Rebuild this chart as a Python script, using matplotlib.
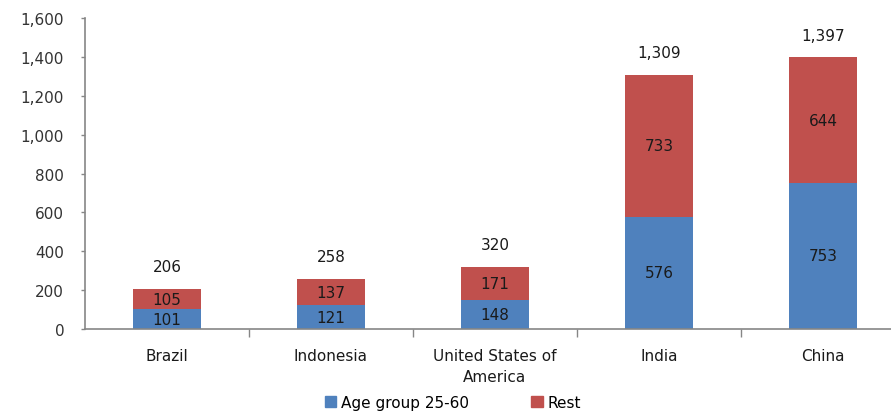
import matplotlib
matplotlib.use("Agg")
import matplotlib.pyplot as plt
from matplotlib.ticker import FuncFormatter, FixedLocator
from matplotlib.patches import Patch

countries = ["Brazil", "Indonesia", "United States of\nAmerica", "India", "China"]
age_25_60 = [101, 121, 148, 576, 753]
rest = [105, 137, 171, 733, 644]
totals = [206, 258, 320, 1309, 1397]

blue = "#4F81BD"
red = "#C0504D"
axis_grey = "#868686"
text_col = "#1a1a1a"

plt.rcParams["font.family"] = ["DejaVu Sans"]

fig = plt.figure(figsize=(8.91, 4.14), dpi=100)
ax = fig.add_axes([0.0954, 0.203, 0.9046, 0.751])

x = list(range(len(countries)))
w = 0.41
ax.bar(x, age_25_60, w, color=blue, label="Age group 25-60")
ax.bar(x, rest, w, bottom=age_25_60, color=red, label="Rest")

fs = 11
for xi, a, r, t in zip(x, age_25_60, rest, totals):
    ax.text(xi, a / 2, f"{a:,}", ha="center", va="center", fontsize=fs, color=text_col)
    ax.text(xi, a + r / 2, f"{r:,}", ha="center", va="center", fontsize=fs, color=text_col)
    ax.annotate(f"{t:,}", (xi, t), xytext=(0, 16), textcoords="offset points",
                ha="center", va="center", fontsize=fs, color=text_col)

ax.set_ylim(0, 1600)
ax.set_xlim(-0.5, 4.415)
ax.set_yticks(range(0, 1601, 200))
ax.yaxis.set_major_formatter(FuncFormatter(lambda v, p: f"{int(v):,}"))
ax.set_xticks(x)
ax.set_xticklabels(countries, fontsize=fs, color=text_col, linespacing=1.45)
ax.xaxis.set_minor_locator(FixedLocator([i + 0.5 for i in range(len(countries))]))
ax.tick_params(axis="x", which="major", length=0, pad=14)
ax.tick_params(axis="x", which="minor", length=6, color=axis_grey, width=1)
ax.tick_params(axis="y", length=3, color=axis_grey, width=1, labelsize=fs,
               labelcolor="#333333", pad=12)

for s in ["top", "right"]:
    ax.spines[s].set_visible(False)
for s in ["left", "bottom"]:
    ax.spines[s].set_color(axis_grey)
    ax.spines[s].set_linewidth(1.2)

handles = [Patch(color=blue, label="Age group 25-60"), Patch(color=red, label="Rest")]
fig.legend(handles=handles, loc="center", bbox_to_anchor=(0.508, 0.025), ncol=2,
           frameon=False, fontsize=fs, handlelength=0.75, handleheight=0.75,
           handletextpad=0.3, columnspacing=4.1, borderaxespad=0)

fig.savefig("out.png", dpi=100)
